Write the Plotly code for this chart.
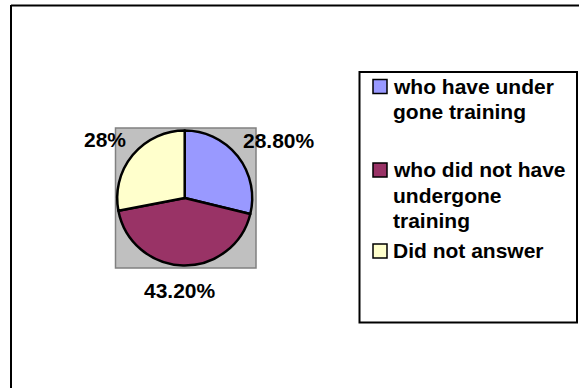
import plotly.graph_objects as go

# Survey responses on training
categories = [
    "who have under<br>gone training",
    "who did not have<br>undergone<br>training",
    "Did not answer",
]
values = [28.8, 43.2, 28.0]
colors = ["#9999FF", "#993366", "#FFFFCC"]

W, H = 579, 388
FONT = "Liberation Sans, Arial, sans-serif"
FS = 21


def px(x):
    return x / W


def py(y):
    return 1 - y / H


def pct_text(v):
    return f"{v:.0f}%" if float(v).is_integer() else f"{v:.2f}%"


# Pie geometry (pixels)
cx, cy, r = 184.7, 198.0, 67.5

fig = go.Figure()
fig.add_trace(go.Pie(
    labels=[c.replace("<br>", " ") for c in categories],
    values=values,
    sort=False,
    direction="clockwise",
    rotation=0,
    marker=dict(colors=colors, line=dict(color="#000000", width=2.5)),
    textinfo="none",
    hoverinfo="label+percent",
    showlegend=False,
    domain=dict(x=[px(cx - r), px(cx + r)], y=[py(cy + r), py(cy - r)]),
))

shapes = [
    # plot-area backdrop behind the pie
    dict(type="rect", xref="paper", yref="paper", layer="below",
         x0=px(115.5), x1=px(256), y0=py(268), y1=py(128),
         fillcolor="#C0C0C0", line=dict(color="#808080", width=1.5)),
    # chart frame (top and left edges)
    dict(type="line", xref="paper", yref="paper",
         x0=px(11), x1=px(W + 5), y0=py(5.5), y1=py(5.5),
         line=dict(color="#000000", width=2)),
    dict(type="line", xref="paper", yref="paper",
         x0=px(11), x1=px(11), y0=py(5), y1=py(H + 5),
         line=dict(color="#000000", width=2)),
    # legend box
    dict(type="rect", xref="paper", yref="paper",
         x0=px(359.5), x1=px(577), y0=py(322.5), y1=py(72),
         fillcolor="rgba(0,0,0,0)", line=dict(color="#000000", width=2)),
]

annotations = []

# Slice value labels
label_pos = [(279, 140), (179.5, 290), (104.5, 139)]
for v, (lx, ly) in zip(values, label_pos):
    annotations.append(dict(
        x=px(lx), y=py(ly), xref="paper", yref="paper",
        xanchor="center", yanchor="middle", showarrow=False,
        text=pct_text(v),
        font=dict(family=FONT, size=FS, color="#000000", weight="bold"),
    ))

# Legend entries: first-line baseline for each item
item_baseline = [93.5, 177, 258]
line_step = 25.5
for cat, col, base in zip(categories, colors, item_baseline):
    shapes.append(dict(
        type="rect", xref="paper", yref="paper",
        x0=px(373), x1=px(387), y0=py(base), y1=py(base - 14),
        fillcolor=col, line=dict(color="#000000", width=1.5)))
    for i, line in enumerate(cat.split("<br>")):
        annotations.append(dict(
            x=px(391), y=py(base - 7.5 + i * line_step),
            xref="paper", yref="paper",
            xanchor="left", yanchor="middle", showarrow=False,
            text=line,
            font=dict(family=FONT, size=FS, color="#000000", weight="bold"),
        ))

fig.update_layout(
    width=W, height=H,
    margin=dict(l=0, r=0, t=0, b=0),
    paper_bgcolor="#FFFFFF",
    plot_bgcolor="#FFFFFF",
    shapes=shapes,
    annotations=annotations,
    showlegend=False,
)

fig.write_html("out.html")
